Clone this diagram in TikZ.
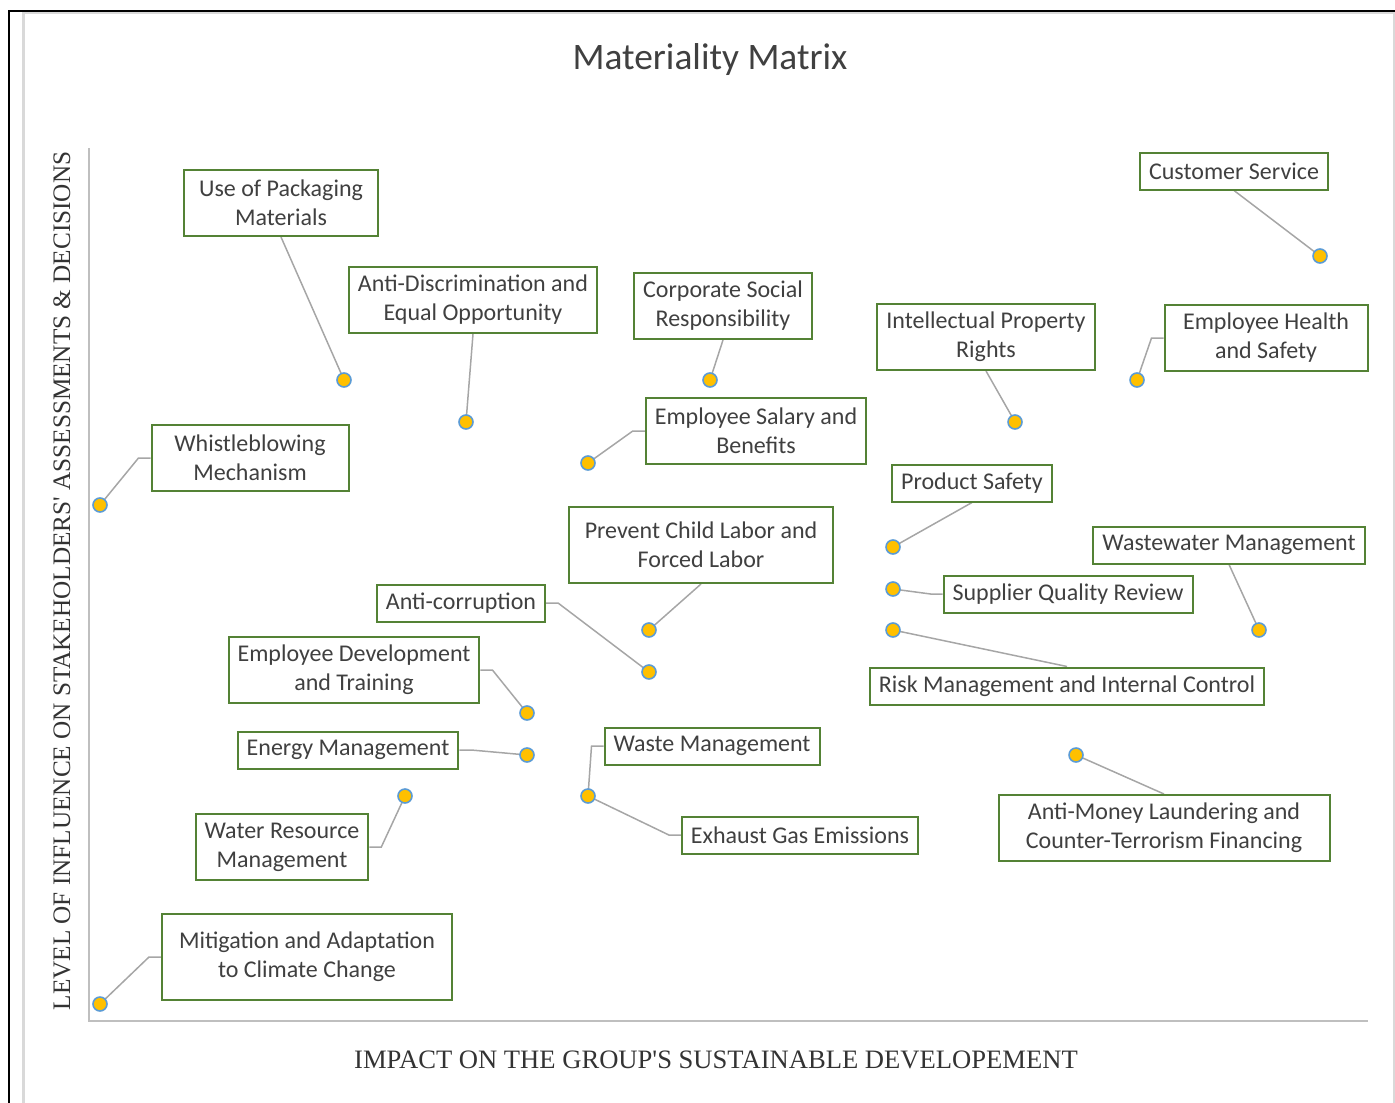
\documentclass[tikz,border=0pt]{standalone}
\usepackage{fontspec}
\setmainfont{Carlito}
\newfontfamily\axisfont{Liberation Serif}
\usepackage{tikz}
\usetikzlibrary{backgrounds}

\definecolor{txtgray}{HTML}{404040}
\definecolor{boxgreen}{HTML}{548235}
\definecolor{dotfill}{HTML}{FFC000}
\definecolor{dotline}{HTML}{5B9BD5}
\definecolor{leadgray}{HTML}{A6A6A6}
\definecolor{axisgray}{HTML}{BFBFBF}
\definecolor{areagray}{HTML}{D9D9D9}

\tikzset{
	lbl/.style={draw=boxgreen, line width=1pt, fill=white, text=txtgray,
		font=\fontsize{12}{14.5}\selectfont, align=center, inner xsep=4.5pt, inner ysep=2pt},
	two/.style={minimum height=33pt},
	one/.style={minimum height=18.5pt},
	dot/.style={circle, fill=dotfill, draw=dotline, line width=0.8pt,
		minimum size=7pt, inner sep=0pt},
	lead/.style={draw=leadgray, line width=0.75pt}
}

\begin{document}
\begin{tikzpicture}[x=0.5pt, y=-0.5pt]
	\useasboundingbox (0,0) rectangle (1395,1102);
	% frame and chart area
	\draw[areagray, line width=1.5pt] (23,1110) -- (23,13) -- (1394,13) -- (1394,1110);
	\draw[black, line width=1pt] (9,1110) -- (9,11) -- (1400,11);
	\draw[axisgray, line width=1pt] (89,148) -- (89,1021) -- (1368,1021);

	% titles
	\node[text=txtgray, font=\fontsize{18.7}{22}\selectfont] (title) at (710,60) {Materiality Matrix};
	\node[text=black!80, font=\axisfont\fontsize{12.6}{14}\selectfont, rotate=90] (ylab) at (62,581)
		{LEVEL OF INFLUENCE ON STAKEHOLDERS' ASSESSMENTS \& DECISIONS};
	\node[text=black!80, font=\axisfont\fontsize{13.3}{15}\selectfont] (xlab) at (716,1060)
		{IMPACT ON THE GROUP'S SUSTAINABLE DEVELOPEMENT};

	% topics
	\node[lbl, two, minimum width=97pt] (pack) at (281,203) {Use of Packaging\\Materials};
	\node[lbl, two] (discr) at (473,300) {Anti-Discrimination and\\Equal Opportunity};
	\node[lbl, two] (csr) at (723,306) {Corporate Social\\Responsibility};
	\node[lbl, one] (cust) at (1234,171) {Customer Service};
	\node[lbl, two] (ipr) at (986,337) {Intellectual Property\\Rights};
	\node[lbl, two, minimum width=101.5pt] (health) at (1266,338) {Employee Health\\and Safety};
	\node[lbl, two, minimum width=98.5pt] (whistle) at (250,458) {Whistleblowing\\Mechanism};
	\node[lbl, two] (salary) at (756,431) {Employee Salary and\\Benefits};
	\node[lbl, one] (prod) at (972,483) {Product Safety};
	\node[lbl, one] (wwater) at (1229,545) {Wastewater Management};
	\node[lbl, two, minimum width=132pt, minimum height=38pt] (child) at (701,545) {Prevent Child Labor and\\Forced Labor};
	\node[lbl, one] (supp) at (1068,594) {Supplier Quality Review};
	\node[lbl, one] (risk) at (1067,686) {Risk Management and Internal Control};
	\node[lbl, one] (corr) at (461,603) {Anti-corruption};
	\node[lbl, two] (train) at (354,670) {Employee Development\\and Training};
	\node[lbl, one] (energy) at (348,750) {Energy Management};
	\node[lbl, two] (water) at (282,847) {Water Resource\\Management};
	\node[lbl, one] (waste) at (712,746) {Waste Management};
	\node[lbl, one] (exhaust) at (800,835) {Exhaust Gas Emissions};
	\node[lbl, two, minimum width=165.5pt] (aml) at (1164,828) {Anti-Money Laundering and\\Counter-Terrorism Financing};
	\node[lbl, two, minimum width=145pt, minimum height=43pt] (climate) at (307,957) {Mitigation and Adaptation\\to Climate Change};

	% data points
	\node[dot] (p-pack) at (344,380) {};
	\node[dot] (p-discr) at (466,422) {};
	\node[dot] (p-csr) at (710,380) {};
	\node[dot] (p-cust) at (1320,256) {};
	\node[dot] (p-ipr) at (1015,422) {};
	\node[dot] (p-health) at (1137,380) {};
	\node[dot] (p-whistle) at (100,505) {};
	\node[dot] (p-salary) at (588,463) {};
	\node[dot] (p-prod) at (893,547) {};
	\node[dot] (p-wwater) at (1259,630) {};
	\node[dot] (p-child) at (649,630) {};
	\node[dot] (p-supp) at (893,589) {};
	\node[dot] (p-risk) at (893,630) {};
	\node[dot] (p-corr) at (649,672) {};
	\node[dot] (p-train) at (527,713) {};
	\node[dot] (p-energy) at (527,755) {};
	\node[dot] (p-water) at (405,796) {};
	\node[dot] (p-waste) at (588,796) {};
	\node[dot] (p-aml) at (1076,755) {};
	\node[dot] (p-climate) at (100,1004) {};

	% leader lines
	\begin{scope}[on background layer]
		\draw[lead] (pack.south) -- (p-pack.center);
		\draw[lead] (discr.south) -- (p-discr.center);
		\draw[lead] (csr.south) -- (p-csr.center);
		\draw[lead] (cust.south) -- (p-cust.center);
		\draw[lead] (ipr.south) -- (p-ipr.center);
		\draw[lead] (p-health.center) -- ([xshift=-6pt]health.west) -- (health.west);
		\draw[lead] (p-whistle.center) -- ([xshift=-6pt]whistle.west) -- (whistle.west);
		\draw[lead] (p-salary.center) -- ([xshift=-6pt]salary.west) -- (salary.west);
		\draw[lead] (prod.south) -- (p-prod.center);
		\draw[lead] (wwater.south) -- (p-wwater.center);
		\draw[lead] (child.south) -- (p-child.center);
		\draw[lead] (p-supp.center) -- ([xshift=-6pt]supp.west) -- (supp.west);
		\draw[lead] (p-risk.center) -- (risk.north);
		\draw[lead] (corr.east) -- ([xshift=6pt]corr.east) -- (p-corr.center);
		\draw[lead] (train.east) -- ([xshift=6pt]train.east) -- (p-train.center);
		\draw[lead] (energy.east) -- ([xshift=6pt]energy.east) -- (p-energy.center);
		\draw[lead] (water.east) -- ([xshift=6pt]water.east) -- (p-water.center);
		\draw[lead] (p-waste.center) -- ([xshift=-6pt]waste.west) -- (waste.west);
		\draw[lead] (p-waste.center) -- ([xshift=-6pt]exhaust.west) -- (exhaust.west);
		\draw[lead] (aml.north) -- (p-aml.center);
		\draw[lead] (p-climate.center) -- ([xshift=-6pt]climate.west) -- (climate.west);
	\end{scope}
\end{tikzpicture}
\end{document}
